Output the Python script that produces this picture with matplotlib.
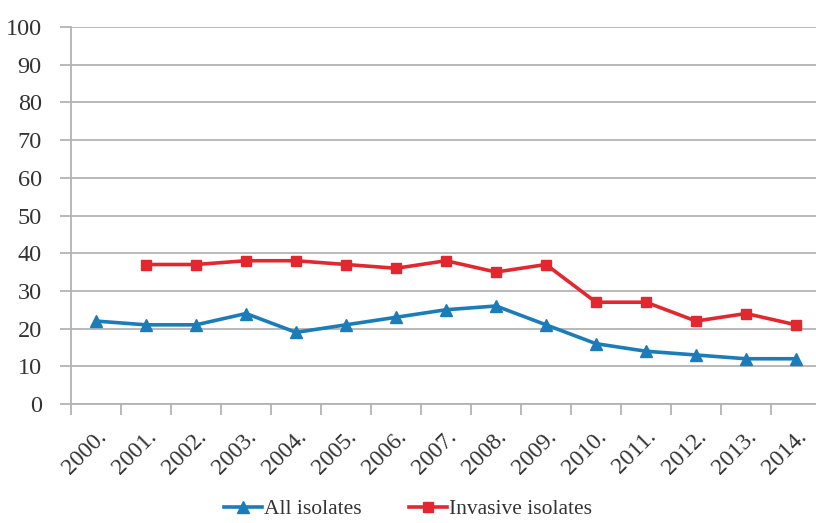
import numpy as np
import matplotlib
matplotlib.use("Agg")
import matplotlib.pyplot as plt

# Dados
anos = ["2000.", "2001.", "2002.", "2003.", "2004.", "2005.", "2006.", "2007.",
        "2008.", "2009.", "2010.", "2011.", "2012.", "2013.", "2014."]
all_isolates = [22, 21, 21, 24, 19, 21, 23, 25, 26, 21, 16, 14, 13, 12, 12]
invasive_isolates = [np.nan, 37, 37, 38, 38, 37, 36, 38, 35, 37, 27, 27, 22, 24, 21]

plt.rcParams["font.family"] = "serif"
plt.rcParams["font.serif"] = ["Liberation Serif", "DejaVu Serif"]

fig = plt.figure(figsize=(8.16, 5.23), dpi=100)
ax = fig.add_axes([71 / 816, 1 - 404 / 523, 750 / 816, 377 / 523])

x = np.arange(len(anos))
ax.plot(x, all_isolates, color="#1b7cba", lw=2.6, marker="^", ms=8,
        label="All isolates", clip_on=False, zorder=3)
ax.plot(x, invasive_isolates, color="#e2282e", lw=2.6, marker="s", ms=7.5,
        label="Invasive isolates", clip_on=False, zorder=3)

ax.set_xlim(-0.5, len(anos) - 0.5)
ax.set_ylim(0, 100)
ax.set_yticks(range(0, 101, 10))
ax.yaxis.grid(True, color="#b3b3b3", lw=1.3)
ax.set_axisbelow(True)

# ticks entre categorias, rotulos no centro
ax.set_xticks(np.arange(-0.5, len(anos) - 0.4, 1))
ax.set_xticklabels([])
ax.set_xticks(x, minor=True)
ax.set_xticklabels(anos, minor=True, rotation=45, ha="right", va="top",
                   rotation_mode="anchor", fontsize=17, color="#333333")
ax.tick_params(axis="x", which="major", length=8, width=1.3, color="#b3b3b3")
ax.tick_params(axis="x", which="minor", length=0, pad=16)
ax.tick_params(axis="y", length=8, width=1.3, color="#b3b3b3", pad=13,
               labelsize=17.5, labelcolor="#333333")

for s in ["top", "right"]:
    ax.spines[s].set_visible(False)
for s in ["left", "bottom"]:
    ax.spines[s].set_color("#b3b3b3")
    ax.spines[s].set_linewidth(1.3)

fig.legend(loc="lower center", bbox_to_anchor=(0.5, -0.03), ncol=2,
           frameon=False, fontsize=15.5, handlelength=1.75, handletextpad=0.1,
           columnspacing=2.2, labelcolor="#333333")

fig.savefig("out.png", dpi=100)
